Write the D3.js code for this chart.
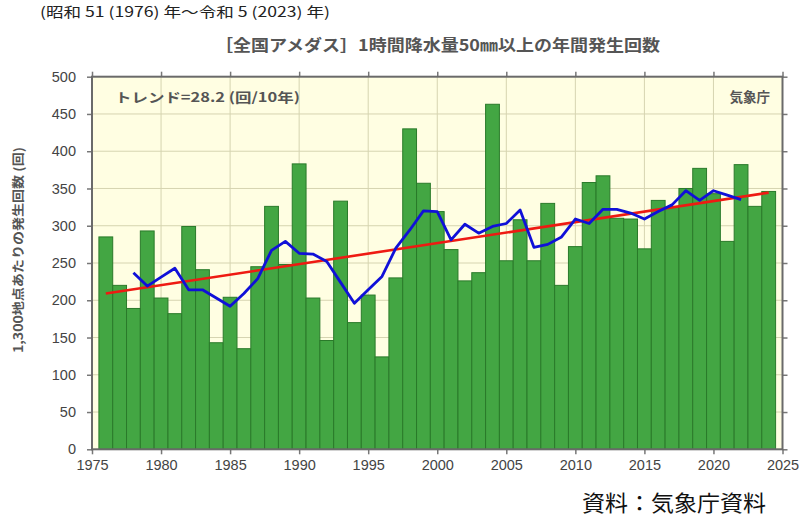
<!DOCTYPE html>
<html><head><meta charset="utf-8">
<script src="https://cdn.jsdelivr.net/npm/d3@7"></script>
<style>
html,body{margin:0;padding:0;background:#fff;}
svg{display:block;}
text{font-family:"Noto Sans CJK JP","Noto Sans",sans-serif;}
</style></head>
<body>
<svg id="c" width="803" height="517"></svg>
<script>
// ---- data ----
const years = d3.range(1976, 2025);
const counts = [285,220,189,293,203,182,299,241,143,204,135,245,326,248,383,203,146,333,170,207,124,230,430,357,319,268,226,237,463,253,308,253,330,220,272,358,367,310,309,269,334,325,350,377,343,279,382,326,346];
const maYears = d3.range(1978, 2023);
const maValues = [237,219,231,243,214,214,203,192,209,229,267,279,263,262,252,224,196,214,232,270,294,320,319,281,302,290,299,303,321,271,275,285,309,303,322,322,317,309,319,328,347,334,347,341,335];
const trendYears = [1976, 2024];
const trendValues = [209, 344.4];
const yTicks = d3.range(0, 501, 50);
const xTicks = d3.range(1975, 2026, 5);
const subtitle = "(昭和 51 (1976) 年〜令和 5 (2023) 年)";
const title = "［全国アメダス］1時間降水量50㎜以上の年間発生回数";
const trendLabel = "トレンド=28.2 (回/10年)";
const agency = "気象庁";
const yLabel = "1,300地点あたりの発生回数 (回)";
const source = "資料：気象庁資料";

// ---- layout ----
const svg = d3.select("#c");
const L = 92, R = 782.5, T = 76.7, B = 449.3;
const x = d3.scaleLinear().domain([1975, 2025]).range([L, R]);
const y = d3.scaleLinear().domain([0, 500]).range([B, T]);

svg.append("rect").attr("x", L).attr("y", T).attr("width", R - L).attr("height", B - T).attr("fill", "#fffee2");

// grid
svg.append("g").selectAll("line").data(yTicks.slice(1, -1)).join("line")
  .attr("x1", L).attr("x2", R).attr("y1", d => y(d)).attr("y2", d => y(d))
  .attr("stroke", "#d6d4b0").attr("stroke-width", 1);
svg.append("g").selectAll("line").data(xTicks.slice(1, -1)).join("line")
  .attr("y1", T).attr("y2", B).attr("x1", d => x(d)).attr("x2", d => x(d))
  .attr("stroke", "#d6d4b0").attr("stroke-width", 1);

// bars
svg.append("g").selectAll("rect").data(years).join("rect")
  .attr("x", d => x(d - 0.5)).attr("width", d => x(d + 0.5) - x(d - 0.5))
  .attr("y", (d, i) => y(counts[i])).attr("height", (d, i) => B - y(counts[i]))
  .attr("fill", "#43a643").attr("stroke", "#2a7a2a").attr("stroke-width", 1);

// trend
svg.append("path").datum(trendYears.map((d, i) => [d, trendValues[i]]))
  .attr("d", d3.line().x(d => x(d[0])).y(d => y(d[1])))
  .attr("fill", "none").attr("stroke", "#ee1a12").attr("stroke-width", 2.6);

// moving average
svg.append("path").datum(maYears.map((d, i) => [d, maValues[i]]))
  .attr("d", d3.line().x(d => x(d[0])).y(d => y(d[1])))
  .attr("fill", "none").attr("stroke", "#1010d8").attr("stroke-width", 2.8).attr("stroke-linejoin", "round");

// axes
const tickCol = "#777";
const gl = svg.append("g").attr("transform", `translate(${L},0)`).call(d3.axisLeft(y).tickValues(yTicks).tickSize(5).tickPadding(11));
const gr = svg.append("g").attr("transform", `translate(${R},0)`).call(d3.axisRight(y).tickValues(yTicks).tickSize(5).tickFormat(""));
const gb = svg.append("g").attr("transform", `translate(0,${B})`).call(d3.axisBottom(x).tickValues(xTicks).tickFormat(d3.format("d")).tickSize(5).tickPadding(5));
const gt = svg.append("g").attr("transform", `translate(0,${T})`).call(d3.axisTop(x).tickValues(xTicks).tickSize(5).tickFormat(""));
[gl, gr, gb, gt].forEach(g => {
  g.select(".domain").remove();
  g.selectAll(".tick line").attr("stroke", tickCol).attr("stroke-width", 1.5);
  g.selectAll("text").attr("fill", "#444").attr("font-size", 14.5).style("font-family", "'Liberation Sans',Arial,sans-serif");
});

// frame
svg.append("rect").attr("x", L).attr("y", T).attr("width", R - L).attr("height", B - T)
  .attr("fill", "none").attr("stroke", "#6a6a6a").attr("stroke-width", 2);

// texts
svg.append("text").attr("x", 40).attr("y", 17).attr("font-size", 14).attr("fill", "#222")
  .attr("textLength", 290).attr("lengthAdjust", "spacingAndGlyphs").text(subtitle);
svg.append("text").attr("x", 215).attr("y", 51).attr("font-size", 16).attr("font-weight", "bold").attr("fill", "#555")
  .attr("textLength", 445).attr("lengthAdjust", "spacingAndGlyphs").text(title);
svg.append("text").attr("x", 115).attr("y", 102).attr("font-size", 13).attr("font-weight", "bold").attr("fill", "#555")
  .attr("textLength", 185).attr("lengthAdjust", "spacingAndGlyphs").text(trendLabel);
svg.append("text").attr("x", 770).attr("y", 102).attr("text-anchor", "end").attr("font-size", 13.5).attr("font-weight", "bold").attr("fill", "#555").text(agency);
svg.append("text").attr("transform", "translate(23,250) rotate(-90)").attr("text-anchor", "middle")
  .attr("font-size", 12.5).attr("font-weight", "bold").attr("fill", "#555").attr("textLength", 206).attr("lengthAdjust", "spacingAndGlyphs").text(yLabel);
svg.append("text").attr("x", 582).attr("y", 511).attr("font-size", 22).attr("fill", "#111")
  .attr("textLength", 184).attr("lengthAdjust", "spacingAndGlyphs").text(source);
</script>
</body></html>
